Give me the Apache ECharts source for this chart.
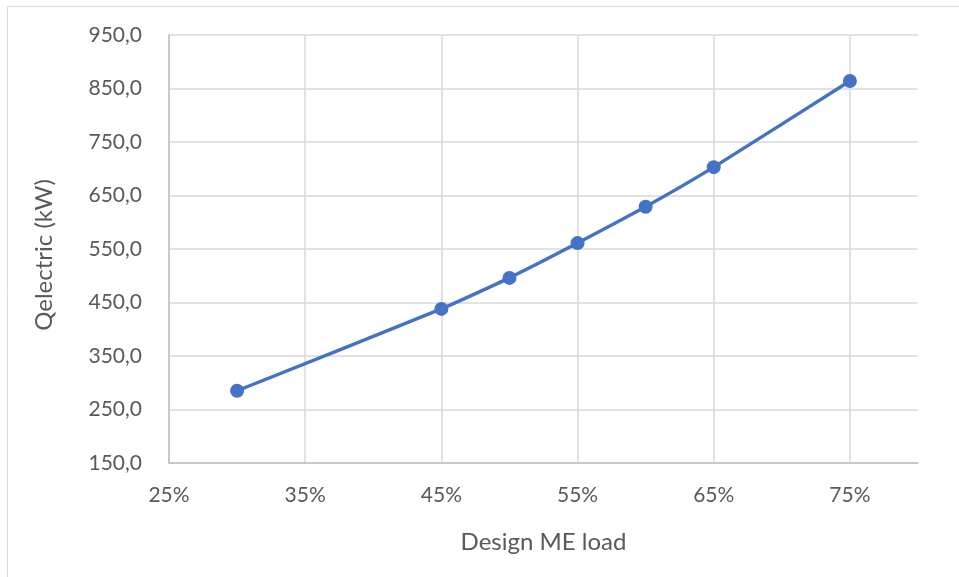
<!DOCTYPE html>
<html>
<head>
<meta charset="utf-8">
<script src="https://cdn.jsdelivr.net/npm/echarts@6/dist/echarts.min.js"></script>
<style>
  html, body { margin: 0; padding: 0; background: #fff; }
  #chart { width: 959px; height: 577px; }
</style>
</head>
<body>
<div id="chart"></div>
<script>
// Design main-engine load (%) and the resulting electric power demand (kW)
const loadPercent = [30, 45, 50, 55, 60, 65, 75];
const qElectric = [285, 438, 496, 561, 629, 703, 864];

const xTitle = 'Design ME load';
const yTitle = 'Qelectric (kW)';

const textColor = '#595959';
const gridColor = '#d9d9d9';
const axisColor = '#bfbfbf';
const lineColor = '#4472C4';
const fontFamily = 'Lato, "Open Sans", "Noto Sans", sans-serif';

const chart = echarts.init(document.getElementById('chart'));

chart.setOption({
  backgroundColor: '#fff',
  animation: false,
  graphic: [
    {
      type: 'polyline',
      shape: { points: [[7.5, 577], [7.5, 6.5], [959, 6.5]] },
      style: { stroke: '#d9d9d9', lineWidth: 1, fill: null },
      silent: true
    }
  ],
  grid: { left: 169, right: 41, top: 35, bottom: 114 },
  xAxis: {
    type: 'value',
    min: 25,
    max: 80,
    interval: 10,
    name: xTitle,
    nameLocation: 'middle',
    nameGap: 67,
    nameTextStyle: { color: textColor, fontSize: 24, fontFamily },
    axisLine: { show: true, lineStyle: { color: axisColor, width: 1.5 } },
    axisTick: { show: false },
    axisLabel: {
      color: textColor,
      fontSize: 21,
      fontFamily,
      margin: 22,
      showMaxLabel: false,
      formatter: v => v + '%'
    },
    splitLine: {
      show: true,
      lineStyle: {
        color: [gridColor, gridColor, gridColor, gridColor, gridColor, gridColor, 'rgba(0,0,0,0)'],
        width: 1.5
      }
    }
  },
  yAxis: {
    type: 'value',
    min: 150,
    max: 950,
    interval: 100,
    name: yTitle,
    nameLocation: 'middle',
    nameGap: 113,
    nameTextStyle: { color: textColor, fontSize: 24, fontFamily, padding: [0, 12, 0, 0] },
    axisLine: { show: true, lineStyle: { color: axisColor, width: 1.5 } },
    axisTick: { show: false },
    axisLabel: {
      color: textColor,
      fontSize: 21,
      fontFamily,
      margin: 27,
      formatter: v => v.toFixed(1).replace('.', ',')
    },
    splitLine: { show: true, lineStyle: { color: gridColor, width: 1.5 } }
  },
  series: [
    {
      type: 'line',
      data: loadPercent.map((x, i) => [x, qElectric[i]]),
      smooth: 0.15,
      symbol: 'circle',
      symbolSize: 14,
      lineStyle: { color: lineColor, width: 3.4 },
      itemStyle: { color: lineColor }
    }
  ]
});
</script>
</body>
</html>
